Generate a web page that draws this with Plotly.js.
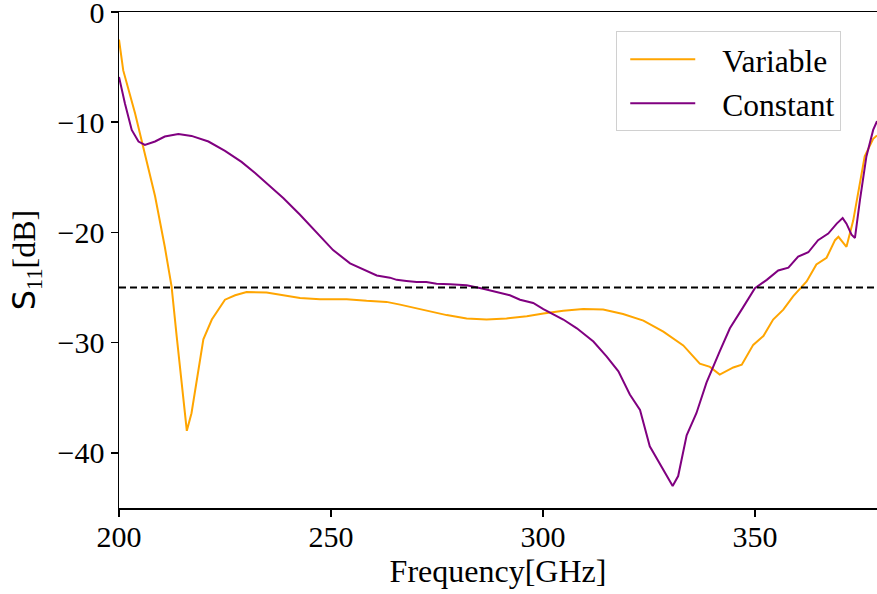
<!DOCTYPE html>
<html>
<head>
<meta charset="utf-8">
<script src="https://cdn.plot.ly/plotly-3.0.1.min.js"></script>
<style>html,body{margin:0;padding:0;background:#fff;}</style>
</head>
<body>
<div id="chart" style="width:877px;height:594px;"></div>
<script>
const freqVariable = [200.0,201.0,203.8,205.7,208.5,210.8,212.4,213.6,214.8,216.0,217.1,218.3,219.9,221.9,225.0,227.4,230.1,234.8,238.8,242.7,247.4,253.7,258.4,263.1,266.3,271.8,277.3,282.0,286.7,291.4,296.2,300.1,304.8,309.5,314.2,318.9,323.7,328.4,333.1,337.0,339.4,341.7,344.9,346.9,349.6,352.0,354.3,356.7,359.0,362.2,364.5,366.9,368.9,369.7,371.6,373.2,374.8,375.9,377.9,378.8];
const s11Variable = [-2.5,-5.3,-9.2,-12.2,-16.7,-21.3,-24.9,-29.4,-34.0,-38.0,-36.4,-33.4,-29.7,-27.9,-26.1,-25.7,-25.4,-25.45,-25.7,-25.95,-26.05,-26.05,-26.2,-26.3,-26.55,-27.0,-27.5,-27.8,-27.9,-27.8,-27.6,-27.35,-27.1,-26.95,-27.0,-27.4,-28.0,-29.0,-30.25,-31.9,-32.2,-32.9,-32.25,-32.0,-30.2,-29.4,-27.9,-27.0,-25.8,-24.45,-22.9,-22.3,-20.7,-20.4,-21.3,-18.9,-15.5,-13.1,-11.5,-11.2];

const freqConstant = [200.0,201.4,203.0,204.6,206.1,208.5,210.8,214.0,217.1,221.1,225.0,228.9,232.1,234.8,238.8,242.7,246.6,250.5,254.5,258.4,260.8,263.9,265.5,267.8,270.2,272.5,274.9,278.1,282.0,285.9,289.9,292.2,294.6,297.7,300.1,304.8,308.0,311.9,315.0,317.8,320.5,322.9,325.2,328.4,330.6,331.9,333.9,336.2,338.6,341.7,344.1,347.2,350.0,352.8,355.5,357.9,360.2,362.6,364.9,367.3,369.3,370.7,371.6,372.8,373.6,374.8,376.3,377.9,378.8];
const s11Constant = [-5.9,-8.3,-10.7,-11.75,-12.06,-11.75,-11.3,-11.06,-11.24,-11.75,-12.6,-13.6,-14.6,-15.5,-16.9,-18.4,-20.0,-21.6,-22.8,-23.5,-23.9,-24.1,-24.3,-24.4,-24.5,-24.5,-24.65,-24.7,-24.8,-25.1,-25.5,-25.7,-26.1,-26.4,-26.95,-27.9,-28.7,-29.9,-31.25,-32.6,-34.7,-36.1,-39.4,-41.5,-43.0,-42.1,-38.4,-36.4,-33.6,-30.8,-28.7,-26.8,-25.05,-24.3,-23.45,-23.2,-22.2,-21.8,-20.7,-20.1,-19.2,-18.7,-19.2,-20.2,-20.5,-17.0,-13.1,-10.7,-9.9];

const seriesNames = ["Variable", "Constant"];
const threshold = -25;
const xTicks = [200, 250, 300, 350];
const yTicks = [0, -10, -20, -30, -40];

const FONT = '"Liberation Serif", "Times New Roman", serif';

const traces = [
  {x: freqVariable, y: s11Variable, name: seriesNames[0], mode: "lines",
   line: {color: "#FFA500", width: 2}},
  {x: freqConstant, y: s11Constant, name: seriesNames[1], mode: "lines",
   line: {color: "#800080", width: 2}}
];

const axisCommon = {
  showline: true, linecolor: "#000", linewidth: 1.5, mirror: true,
  ticks: "outside", ticklen: 7, tickwidth: 1.5, tickcolor: "#000",
  showgrid: false, zeroline: false, ticklabeloverflow: "allow",
  tickfont: {family: FONT, size: 30, color: "#000"}
};

const layout = {
  width: 877, height: 594,
  margin: {l: 119, r: 0, t: 12, b: 86},
  paper_bgcolor: "#fff", plot_bgcolor: "#fff",
  font: {family: FONT, color: "#000"},
  showlegend: true,
  legend: {
    x: 0.656, y: 0.961, xanchor: "left", yanchor: "top",
    bgcolor: "rgba(255,255,255,0.8)", bordercolor: "#d0d0d0", borderwidth: 1,
    itemwidth: 95,
    font: {family: FONT, size: 31.5, color: "#000"}
  },
  xaxis: Object.assign({}, axisCommon, {
    range: [200, 378.8], tickvals: xTicks, ticklabelstandoff: -6,
    title: {text: "Frequency[GHz]", font: {family: FONT, size: 32, color: "#000"}, standoff: 8}
  }),
  yaxis: Object.assign({}, axisCommon, {
    range: [-45, 0], tickvals: yTicks,
    title: {text: '<span style="font-family:\'DejaVu Sans\'">S</span><sub>11</sub>[dB]', font: {family: FONT, size: 32, color: "#000"}, standoff: 12}
  }),
  shapes: [{
    type: "line", xref: "paper", x0: 0, x1: 1, yref: "y", y0: threshold, y1: threshold,
    line: {color: "#000", width: 2, dash: "7px,4px"}
  }]
};

Plotly.newPlot("chart", traces, layout, {staticPlot: true, displayModeBar: false}).then(function (gd) {
  gd.querySelectorAll(".legendlines path").forEach(function (p) {
    p.setAttribute("d", "M13,0h65");
  });
});
</script>
</body>
</html>
